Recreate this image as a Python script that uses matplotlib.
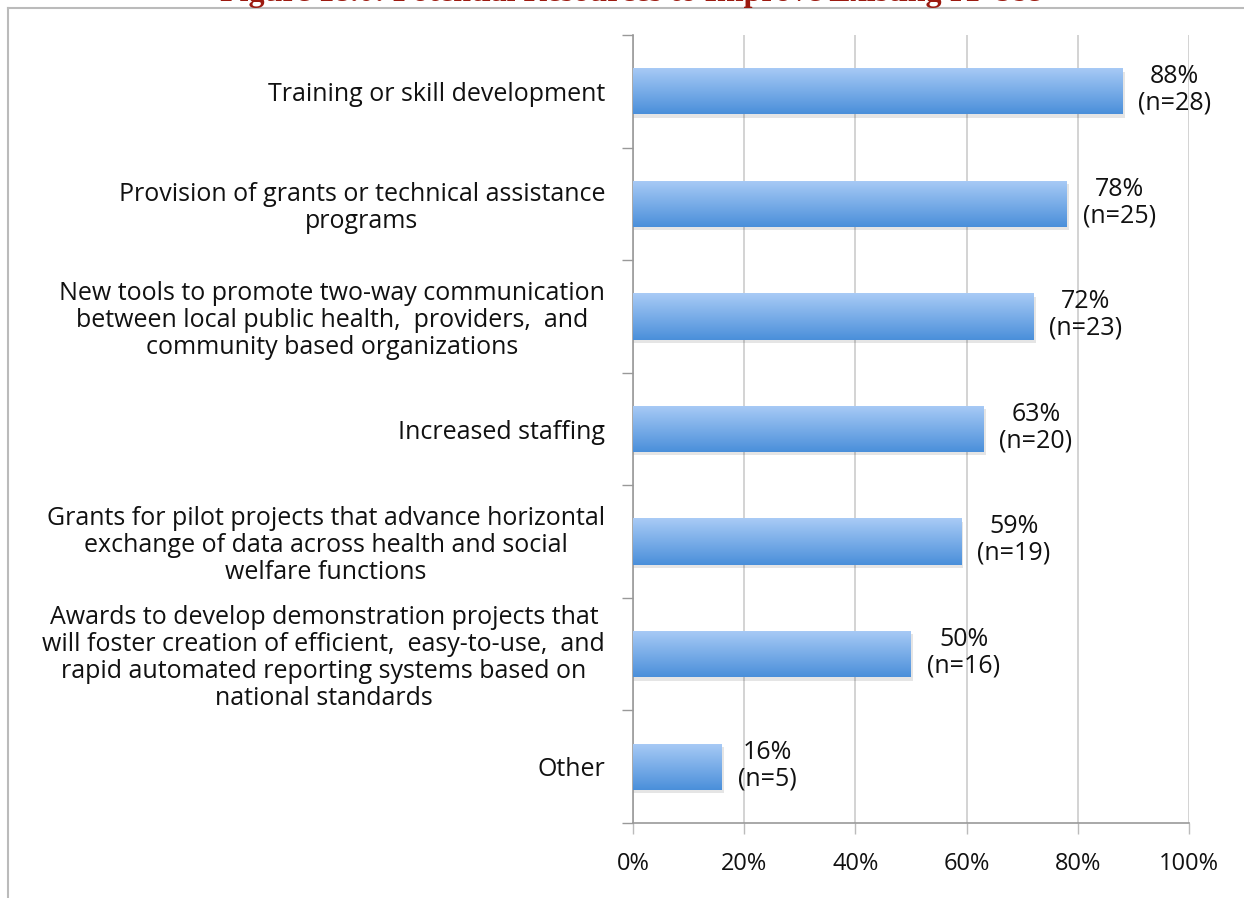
import matplotlib
matplotlib.use("Agg")
import matplotlib.pyplot as plt
import numpy as np
from matplotlib.colors import LinearSegmentedColormap
from matplotlib.lines import Line2D

categories = [
    "Training or skill development",
    "Provision of grants or technical assistance\nprograms",
    "New tools to promote two-way communication\nbetween local public health,  providers,  and\ncommunity based organizations",
    "Increased staffing",
    "Grants for pilot projects that advance horizontal\nexchange of data across health and social\nwelfare functions",
    "Awards to develop demonstration projects that\nwill foster creation of efficient,  easy-to-use,  and\nrapid automated reporting systems based on\nnational standards",
    "Other",
]
percents = [88, 78, 72, 63, 59, 50, 16]
counts = [28, 25, 23, 20, 19, 16, 5]
xticks = [0, 20, 40, 60, 80, 100]
title = "Figure 18.0: Potential Resources to Improve Existing IT Use"

W, H = 1244, 898
fig = plt.figure(figsize=(W / 100, H / 100), dpi=100)
font = "Open Sans"
fs = 18

ax = fig.add_axes([633 / W, 1 - 823 / H, (1189 - 633) / W, (823 - 35) / H])
n = len(categories)
ypos = np.arange(n)

cmap = LinearSegmentedColormap.from_list("g", ["#4A8FDA", "#A9CBF6"])
grad = np.linspace(0, 1, 256).reshape(-1, 1)

bars = ax.barh(ypos, percents, height=0.41, color="none", edgecolor="none", zorder=3)
for b in bars:
    x0, y0 = b.get_x(), b.get_y()
    w, h = b.get_width(), b.get_height()
    ax.add_patch(plt.Rectangle((x0, y0 + 0.03), w + 0.4, h, facecolor="#000000",
                               alpha=0.10, edgecolor="none", zorder=2))
    im = ax.imshow(grad, cmap=cmap, aspect="auto", extent=(x0, x0 + w, y0 + h, y0),
                   origin="lower", zorder=3, interpolation="bilinear")
    im.set_clip_path(b)
ax.set_ylim(n - 0.5, -0.5)
ax.set_xlim(0, 100)

for y, p, c in zip(ypos, percents, counts):
    ax.annotate(f"{p}%\n(n={c})", xy=(p, y), xytext=(11.5, 1), textcoords="offset points",
                ha="left", va="center", multialignment="center",
                fontsize=fs, family=font, color="#111111", linespacing=1.08)

ax.set_xticks(xticks)
ax.set_xticklabels([f"{t}%" for t in xticks], fontsize=17, family=font, color="#111111")
ax.set_yticks(np.arange(n + 1) - 0.5)
ax.set_yticks(ypos, minor=True)
ax.set_yticklabels([])
ax.set_yticklabels(categories, minor=True, fontsize=fs, family=font, color="#111111",
                   linespacing=1.1, ha="right", multialignment="center")
ax.tick_params(axis="y", which="minor", length=0, pad=20)
ax.tick_params(axis="y", which="major", length=8, color="#999999", width=1)
ax.tick_params(axis="x", length=8, color="#BBBBBB", width=1, pad=13)
ax.grid(axis="x", color="#CCCCCC", linewidth=1.2, zorder=0)
ax.set_axisbelow(True)
for s in ["top", "right"]:
    ax.spines[s].set_visible(False)
for s in ["left", "bottom"]:
    ax.spines[s].set_color("#999999")
    ax.spines[s].set_linewidth(1.2)

fig.add_artist(Line2D([8 / W, 1], [1 - 8 / H, 1 - 8 / H], transform=fig.transFigure,
                      color="#BBBBBB", linewidth=1.5))
fig.add_artist(Line2D([8 / W, 8 / W], [0, 1 - 8 / H], transform=fig.transFigure,
                      color="#BBBBBB", linewidth=1.5))

fig.text(630 / W, 1 - 0.5 / H, title, ha="center", va="baseline", fontsize=23,
         family="Liberation Serif", weight="bold", color="#9C1A10")

fig.savefig("out.png", dpi=100)
